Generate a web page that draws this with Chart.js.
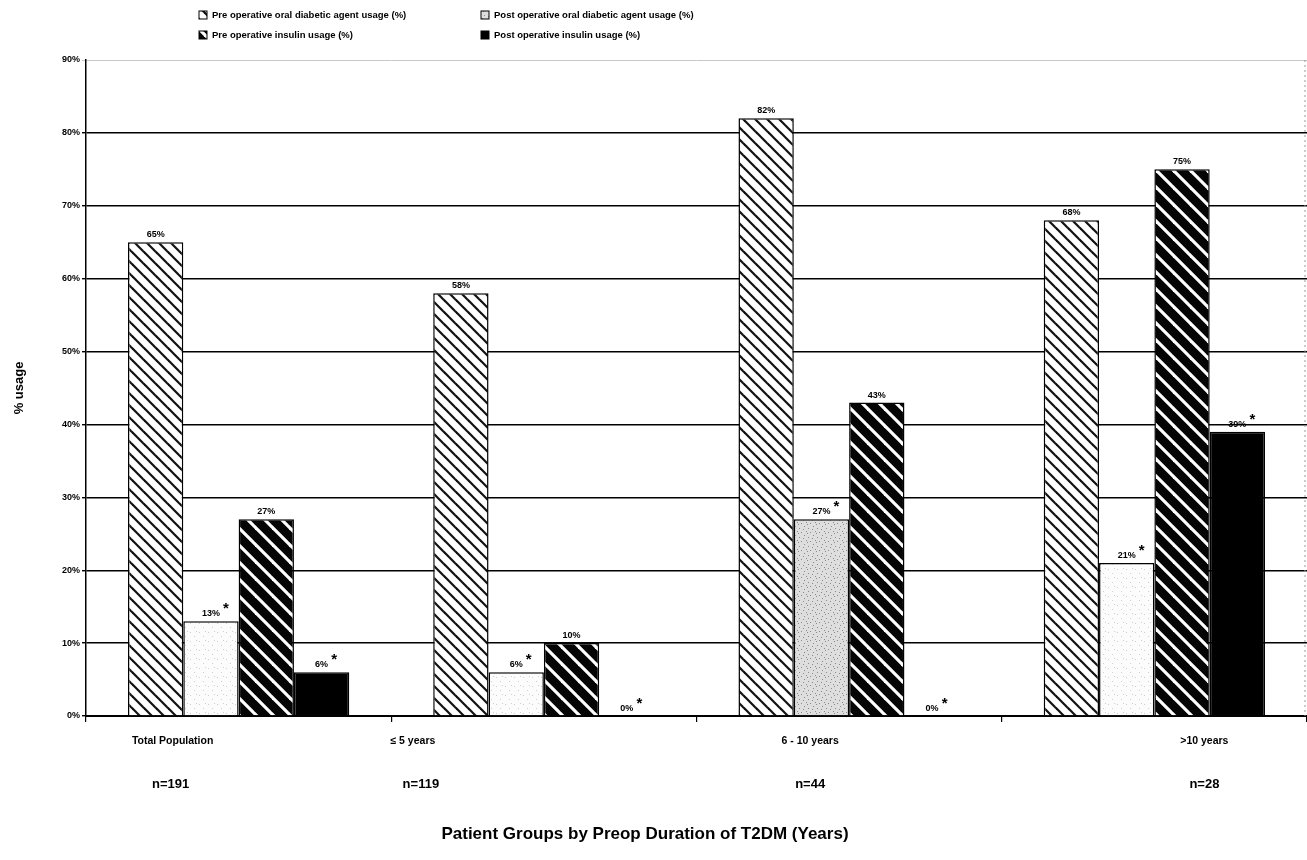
<!DOCTYPE html>
<html>
<head>
<meta charset="utf-8">
<script src="https://cdn.jsdelivr.net/npm/chart.js@4.4.0/dist/chart.umd.min.js"></script>
<style>
  body { margin: 0; background: #fff; }
  canvas { display: block; }
</style>
</head>
<body>
<canvas id="usage_chart" width="1307" height="860"></canvas>
<script>
// chart data
const categories = ['Total Population', '\u2264 5 years', '6 - 10 years', '>10 years'];
const groupSizes = ['n=191', 'n=119', 'n=44', 'n=28'];
const preOral = [65, 58, 82, 68];
const postOral = [13, 6, 27, 21];
const preInsulin = [27, 10, 43, 75];
const postInsulin = [6, 0, 0, 39];
const seriesNames = [
    'Pre operative oral diabetic agent usage (%)',
    'Post operative oral diabetic agent usage (%)',
    'Pre operative insulin usage (%)',
    'Post operative insulin usage (%)'
];
const starred = [false, true, false, true];

// label offsets from the category centres (the original labels sit off-centre)
const nameShift = [-66, -131, -39, 50];
const sizeShift = [-68, -123, -39, 50];

function stripes(size, bg, fg, width) {
    var c = document.createElement('canvas');
    c.width = size; c.height = size;
    var g = c.getContext('2d');
    g.fillStyle = bg;
    g.fillRect(0, 0, size, size);
    g.strokeStyle = fg;
    g.lineWidth = width;
    // lines y = x + k, drawn well past the tile so the ends never show
    for (var k = -2 * size; k <= 2 * size; k += size) {
        g.beginPath();
        g.moveTo(-size, k - size);
        g.lineTo(2 * size, k + 2 * size);
        g.stroke();
    }
    return g.createPattern(c, 'repeat');
}

function speckle(bg, fg, dots) {
    var c = document.createElement('canvas');
    c.width = 9; c.height = 9;
    var g = c.getContext('2d');
    g.fillStyle = bg;
    g.fillRect(0, 0, 9, 9);
    g.fillStyle = fg;
    dots.forEach(function (d) { g.fillRect(d[0], d[1], 1, 1); });
    return g.createPattern(c, 'repeat');
}

var ctx = document.getElementById('usage_chart').getContext('2d');
var preOralFill = stripes(12, '#ffffff', '#111111', 2.2);
var preInsulinFill = stripes(17, '#050505', '#ffffff', 3.2);
var lightDots = speckle('#fcfcfc', '#cfcfcf', [[1, 2], [5, 6], [7, 1]]);
var greyDots = speckle('#dedede', '#8a8a8a', [[0, 1], [3, 4], [6, 2], [2, 7], [7, 6], [5, 0]]);
var postOralFill = [lightDots, lightDots, greyDots, lightDots];
var fills = [preOralFill, postOralFill, preInsulinFill, '#000000'];

var barLabels = {
    id: 'barLabels',
    afterDatasetsDraw: function (chart) {
        var c = chart.ctx;
        c.save();
        c.fillStyle = '#000';
        c.textAlign = 'center';
        c.textBaseline = 'alphabetic';
        chart.data.datasets.forEach(function (ds, di) {
            chart.getDatasetMeta(di).data.forEach(function (bar, i) {
                var txt = ds.data[i] + '%';
                c.font = 'bold 9px Arial';
                c.fillText(txt, bar.x, bar.y - 5);
                if (starred[di]) {
                    var w = c.measureText(txt).width;
                    c.font = 'bold 15px Arial';
                    c.fillText('*', bar.x + w / 2 + 6, bar.y - 8);
                }
            });
        });
        c.restore();
    }
};

var extras = {
    id: 'extras',
    afterDraw: function (chart) {
        var c = chart.ctx;
        var area = chart.chartArea;
        var x = chart.scales.x;
        c.save();
        c.fillStyle = '#000';
        c.textAlign = 'center';
        categories.forEach(function (name, i) {
            var cx = x.getPixelForValue(i);
            c.font = 'bold 10.5px Arial';
            c.fillText(name, cx + nameShift[i], 744);
            c.font = 'bold 13px Arial';
            c.fillText(groupSizes[i], cx + sizeShift[i], 788);
        });
        c.font = 'bold 17px Arial';
        c.fillText('Patient Groups by Preop Duration of T2DM (Years)', 645, 839);

        // dotted right edge
        c.strokeStyle = '#999';
        c.lineWidth = 1;
        c.setLineDash([2, 3]);
        c.beginPath();
        c.moveTo(area.right - 2, area.top);
        c.lineTo(area.right - 2, area.bottom);
        c.stroke();
        c.setLineDash([]);

        // legend, two columns
        var cols = [203, 485], rows = [15, 35];
        c.textAlign = 'left';
        c.textBaseline = 'middle';
        c.font = 'bold 9.5px Arial';
        seriesNames.forEach(function (label, i) {
            var lx = cols[i % 2], ly = rows[Math.floor(i / 2)];
            var f = fills[i];
            c.fillStyle = Array.isArray(f) ? f[2] : f;
            c.fillRect(lx - 4, ly - 4, 8, 8);
            c.strokeStyle = '#000';
            c.lineWidth = 1;
            c.strokeRect(lx - 4, ly - 4, 8, 8);
            c.fillStyle = '#000';
            c.fillText(label, lx + 9, ly);
        });
        c.restore();
    }
};

let chart = new Chart(ctx, {
    type: 'bar',
    data: {
        labels: categories,
        datasets: [
            { label: seriesNames[0], data: preOral, backgroundColor: fills[0] },
            { label: seriesNames[1], data: postOral, backgroundColor: fills[1] },
            { label: seriesNames[2], data: preInsulin, backgroundColor: fills[2] },
            { label: seriesNames[3], data: postInsulin, backgroundColor: fills[3] }
        ]
    },
    options: {
        responsive: false,
        animation: false,
        devicePixelRatio: 1,
        layout: { padding: { top: 60, right: 0, bottom: 138, left: 0 } },
        datasets: {
            bar: {
                borderColor: '#000',
                borderWidth: 1.5,
                categoryPercentage: 0.725,
                barPercentage: 1
            }
        },
        plugins: {
            legend: { display: false },
            tooltip: { enabled: false }
        },
        scales: {
            x: {
                grid: {
                    drawOnChartArea: false,
                    drawTicks: true,
                    tickLength: 6,
                    color: '#000',
                    lineWidth: 1.2
                },
                border: { color: '#000', width: 2 },
                ticks: { display: false }
            },
            y: {
                min: 0,
                max: 90,
                afterFit: function (s) { s.width = 86; },
                ticks: {
                    stepSize: 10,
                    color: '#000',
                    padding: 2,
                    font: { family: 'Arial', size: 9, weight: 'bold' },
                    callback: function (v) { return v + '%'; }
                },
                grid: {
                    tickLength: 4,
                    color: function (c) { return c.tick && c.tick.value === 90 ? '#c8c8c8' : '#000'; },
                    lineWidth: function (c) { return c.tick && c.tick.value === 90 ? 1 : 1.4; }
                },
                border: { color: '#000', width: 1.5 },
                title: {
                    display: true,
                    text: '% usage',
                    color: '#000',
                    padding: { top: 12, bottom: 14 },
                    font: { family: 'Arial', size: 13, weight: 'bold' }
                }
            }
        }
    },
    plugins: [barLabels, extras]
});
</script>
</body>
</html>
